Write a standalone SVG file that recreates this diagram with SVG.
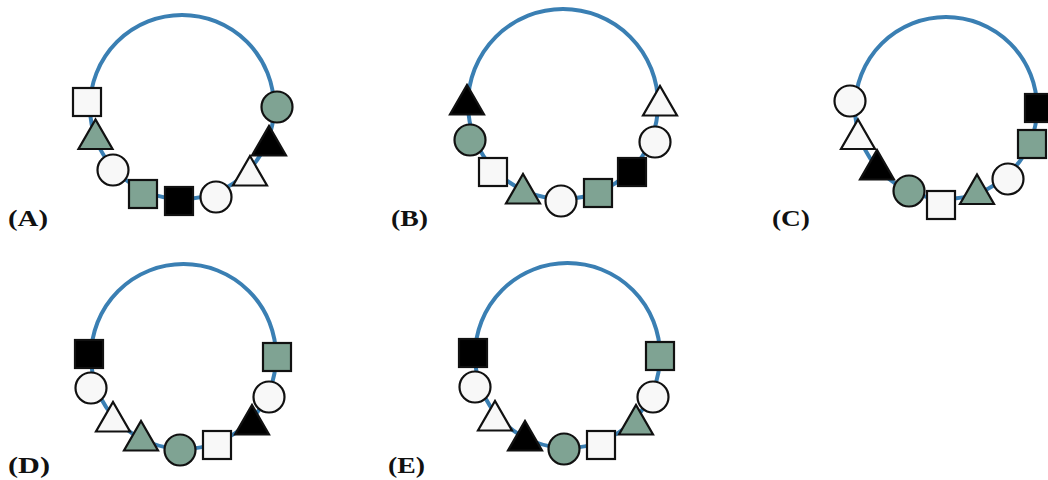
<svg xmlns="http://www.w3.org/2000/svg" xmlns:xlink="http://www.w3.org/1999/xlink" width="1048" height="480" viewBox="0 0 1048 480">
<style>
.ring{fill:none;stroke:#3a7fb3;stroke-width:4}
.sh{stroke:#111;stroke-width:2.2}
.w{fill:#f8f8f8}
.g{fill:#7fa393}
.k{fill:#000}
.lbl{font-family:"Liberation Serif","Times New Roman",serif;font-weight:bold;font-size:24px;fill:#111}
</style>
<defs>
<rect id="sq" x="-14" y="-14" width="28" height="28"/>
<circle id="ci" r="15.5"/>
<polygon id="tr" points="-17,14.5 17,14.5 0,-15"/>
</defs>
<rect width="1048" height="480" fill="#fff"/>
<g id="connectors">
<circle class="ring" cx="182" cy="107" r="92"/>
<circle class="ring" cx="563" cy="104" r="95"/>
<circle class="ring" cx="946" cy="108" r="91"/>
<circle class="ring" cx="183.5" cy="356.5" r="92.5"/>
<circle class="ring" cx="567.5" cy="355.5" r="92.5"/>
</g>
<g id="panelA">
<use id="a1" href="#sq" class="sh w" x="87" y="102"/>
<use id="a2" href="#tr" class="sh g" x="95.5" y="134.5"/>
<use id="a3" href="#ci" class="sh w" x="113" y="170"/>
<use id="a4" href="#sq" class="sh g" x="143" y="194"/>
<use id="a5" href="#sq" class="sh k" x="179" y="201"/>
<use id="a6" href="#ci" class="sh w" x="216" y="197"/>
<use id="a7" href="#tr" class="sh w" x="250" y="171"/>
<use id="a8" href="#tr" class="sh k" x="269" y="141"/>
<use id="a9" href="#ci" class="sh g" x="277" y="107"/>
<text class="lbl" x="8" y="226" textLength="40" lengthAdjust="spacingAndGlyphs">(A)</text>
</g>
<g id="panelB">
<use id="b1" href="#tr" class="sh k" x="467" y="100"/>
<use id="b2" href="#ci" class="sh g" x="470" y="140"/>
<use id="b3" href="#sq" class="sh w" x="493" y="172"/>
<use id="b4" href="#tr" class="sh g" x="523" y="189"/>
<use id="b5" href="#ci" class="sh w" x="561" y="201"/>
<use id="b6" href="#sq" class="sh g" x="598" y="193"/>
<use id="b7" href="#sq" class="sh k" x="632" y="172"/>
<use id="b8" href="#ci" class="sh w" x="655" y="142"/>
<use id="b9" href="#tr" class="sh w" x="660" y="101"/>
<text class="lbl" x="391" y="226" textLength="37" lengthAdjust="spacingAndGlyphs">(B)</text>
</g>
<g id="panelC">
<use id="c1" href="#ci" class="sh w" x="850" y="101"/>
<use id="c2" href="#tr" class="sh w" x="858" y="134.5"/>
<use id="c3" href="#tr" class="sh k" x="877" y="165"/>
<use id="c4" href="#ci" class="sh g" x="909" y="191"/>
<use id="c5" href="#sq" class="sh w" x="941" y="205"/>
<use id="c6" href="#tr" class="sh g" x="977" y="189.5"/>
<use id="c7" href="#ci" class="sh w" x="1008" y="179"/>
<use id="c8" href="#sq" class="sh g" x="1032" y="144"/>
<use id="c9" href="#sq" class="sh k" x="1039" y="108"/>
<text class="lbl" x="772" y="226" textLength="38" lengthAdjust="spacingAndGlyphs">(C)</text>
</g>
<g id="panelD">
<use id="d1" href="#sq" class="sh k" x="89" y="354"/>
<use id="d2" href="#ci" class="sh w" x="91" y="388"/>
<use id="d3" href="#tr" class="sh w" x="113" y="417"/>
<use id="d4" href="#tr" class="sh g" x="141" y="436"/>
<use id="d5" href="#ci" class="sh g" x="180" y="450"/>
<use id="d6" href="#sq" class="sh w" x="217" y="445"/>
<use id="d7" href="#tr" class="sh k" x="252" y="420"/>
<use id="d8" href="#ci" class="sh w" x="269" y="397"/>
<use id="d9" href="#sq" class="sh g" x="277" y="357"/>
<text class="lbl" x="8" y="473" textLength="42" lengthAdjust="spacingAndGlyphs">(D)</text>
</g>
<g id="panelE">
<use id="e1" href="#sq" class="sh k" x="473" y="353"/>
<use id="e2" href="#ci" class="sh w" x="475" y="387"/>
<use id="e3" href="#tr" class="sh w" x="495" y="416"/>
<use id="e4" href="#tr" class="sh k" x="525" y="436"/>
<use id="e5" href="#ci" class="sh g" x="564" y="449"/>
<use id="e6" href="#sq" class="sh w" x="601" y="445"/>
<use id="e7" href="#tr" class="sh g" x="636" y="420"/>
<use id="e8" href="#ci" class="sh w" x="653" y="397"/>
<use id="e9" href="#sq" class="sh g" x="660" y="356"/>
<text class="lbl" x="388" y="473" textLength="37" lengthAdjust="spacingAndGlyphs">(E)</text>
</g>
</svg>
